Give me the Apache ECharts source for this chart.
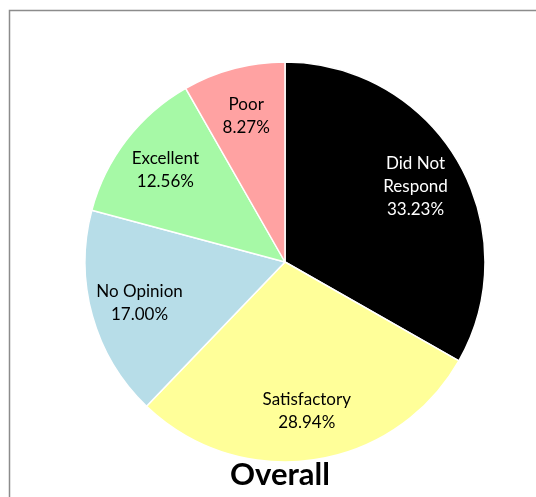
<!DOCTYPE html>
<html>
<head>
<meta charset="utf-8">
<script src="https://cdn.jsdelivr.net/npm/echarts@6/dist/echarts.min.js"></script>
<style>
html,body{margin:0;padding:0;background:#fff;}
#c{width:536px;height:497px;}
</style>
</head>
<body>
<div id="c"></div>
<script>
const categories = ["Did Not\nRespond", "Satisfactory", "No Opinion", "Excellent", "Poor"];
const values = [33.23, 28.94, 17.00, 12.56, 8.27];
const colors = ["#000000", "#FFFF99", "#B7DDE8", "#A6F9A6", "#FFA2A2"];
const labelColors = ["#ffffff", "#000000", "#000000", "#000000", "#000000"];

const chart = echarts.init(document.getElementById('c'));
const data = categories.map((n, i) => ({
  name: n, value: values[i],
  itemStyle: { color: colors[i] },
  label: { color: labelColors[i] }
}));
chart.setOption({
  animation: false,
  graphic: [
    { type: 'polyline', shape: { points: [[9.5, 497], [9.5, 10.5], [536, 10.5]] },
      style: { stroke: '#8c8c8c', lineWidth: 1.5, fill: null }, silent: true },
    { type: 'text', x: 280, y: 475,
      style: { text: 'Overall', font: 'bold 31px Lato, "Open Sans", sans-serif', fill: '#000',
               textAlign: 'center', textVerticalAlign: 'middle' } }
  ],
  series: [
    {
      type: 'pie', center: [285, 262], radius: [0, 200], startAngle: 90, clockwise: true,
      data: data.map(d => ({ name: d.name, value: d.value, itemStyle: d.itemStyle })),
      itemStyle: { borderColor: '#ffffff', borderWidth: 1.5 },
      label: { show: false }, labelLine: { show: false }, silent: true
    },
    {
      type: 'pie', center: [285, 262], radius: [96, 200], startAngle: 90, clockwise: true,
      data: data.map(d => ({ name: d.name, value: d.value, label: d.label })),
      itemStyle: { color: 'rgba(0,0,0,0)' },
      label: { show: true, position: 'inside',
               formatter: p => p.name + '\n' + p.value.toFixed(2) + '%',
               fontFamily: 'Lato, "Open Sans", sans-serif', fontSize: 17, lineHeight: 23, align: 'center' },
      labelLine: { show: false }, silent: true, emphasis: { disabled: true }
    }
  ]
});
</script>
</body>
</html>
